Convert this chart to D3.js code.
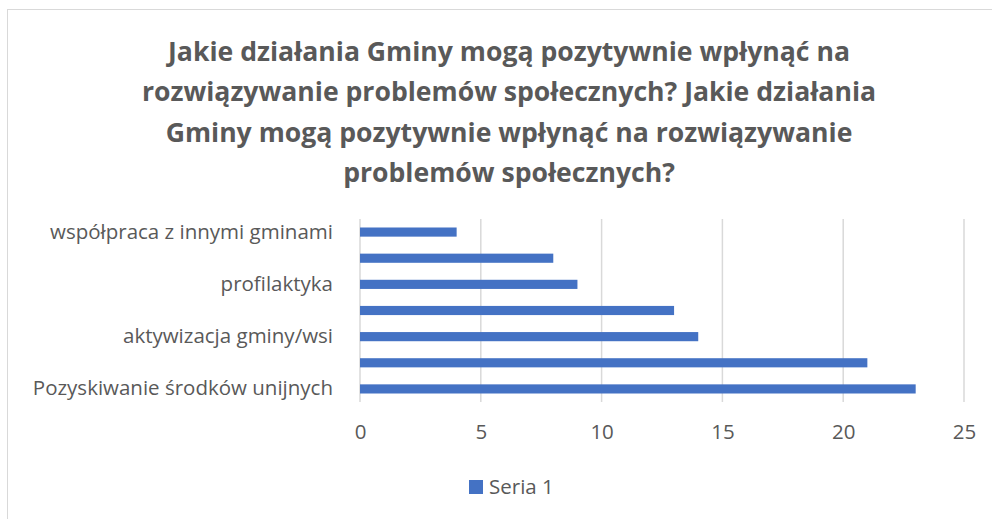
<!DOCTYPE html>
<html>
<head>
<meta charset="utf-8">
<script src="https://cdn.jsdelivr.net/npm/d3@7"></script>
<style>
  body { margin: 0; background: #fff; }
  svg { display: block; font-family: 'Open Sans', sans-serif; }
</style>
</head>
<body>
<div id="chart"></div>
<script>
// data, top to bottom as drawn; only every other category label is shown in the original
const categories = [
  'współpraca z innymi gminami',
  'kategoria 2',
  'profilaktyka',
  'kategoria 4',
  'aktywizacja gminy/wsi',
  'kategoria 6',
  'Pozyskiwanie środków unijnych'
];
const shownLabels = ['współpraca z innymi gminami', 'profilaktyka', 'aktywizacja gminy/wsi', 'Pozyskiwanie środków unijnych'];
const values = [4, 8, 9, 13, 14, 21, 23];
const xTicks = [0, 5, 10, 15, 20, 25];
const seriesName = 'Seria 1';
const titleLines = [
  'Jakie działania Gminy mogą pozytywnie wpłynąć na',
  'rozwiązywanie problemów społecznych? Jakie działania',
  'Gminy mogą pozytywnie wpłynąć na rozwiązywanie',
  'problemów społecznych?'
];

const width = 992;
const height = 519;
const margin = { top: 219, right: 28, bottom: 117, left: 360 };
const labelSize = '20.5px';

const svg = d3.select('#chart').append('svg')
  .attr('width', width)
  .attr('height', height);

// chart frame (only top/left edges fall inside the picture)
svg.append('rect')
  .attr('x', 7.5).attr('y', 9.5)
  .attr('width', width).attr('height', height)
  .attr('fill', 'none')
  .attr('stroke', '#d9d9d9');

svg.append('g')
  .selectAll('text')
  .data(titleLines)
  .enter().append('text')
    .attr('x', 509)
    .attr('y', (d, i) => 61 + i * 40.3)
    .attr('text-anchor', 'middle')
    .attr('fill', '#595959')
    .style('font-size', '26.6px')
    .style('font-weight', 'bold')
    .text(d => d);

const x = d3.scaleLinear()
  .domain([0, 25])
  .range([margin.left, width - margin.right]);

const y = d3.scaleBand()
  .domain(categories)
  .range([margin.top, height - margin.bottom])
  .paddingInner(0.65)
  .paddingOuter(0.325);

// gridlines
svg.append('g')
  .selectAll('line')
  .data(xTicks)
  .enter().append('line')
    .attr('x1', d => x(d)).attr('x2', d => x(d))
    .attr('y1', margin.top).attr('y2', height - margin.bottom)
    .attr('stroke', '#d9d9d9')
    .attr('stroke-width', 1.5);

svg.append('g')
  .selectAll('rect')
  .data(values)
  .enter().append('rect')
    .attr('x', x(0))
    .attr('y', (d, i) => y(categories[i]))
    .attr('width', d => x(d) - x(0))
    .attr('height', y.bandwidth())
    .attr('fill', '#4472c4');

// x axis labels
const xAxis = svg.append('g')
  .attr('transform', `translate(0,${height - margin.bottom + 22})`)
  .call(d3.axisBottom(x).tickValues(xTicks).tickSize(0).tickPadding(0));
xAxis.select('.domain').remove();
xAxis.selectAll('text')
  .attr('fill', '#595959')
  .style('font-family', "'Open Sans', sans-serif")
  .style('font-size', labelSize);

// category labels
const yAxis = svg.append('g')
  .attr('transform', `translate(${margin.left - 27},0)`)
  .call(d3.axisLeft(y).tickValues(shownLabels).tickSize(0).tickPadding(0));
yAxis.select('.domain').remove();
yAxis.selectAll('text')
  .attr('fill', '#595959')
  .style('font-family', "'Open Sans', sans-serif")
  .style('font-size', labelSize);

// legend
const legend = svg.append('g').attr('transform', 'translate(469,480)');
legend.append('rect')
  .attr('width', 14).attr('height', 14)
  .attr('fill', '#4472c4');
legend.append('text')
  .attr('x', 20).attr('y', 7)
  .attr('dy', '0.35em')
  .attr('fill', '#595959')
  .style('font-size', labelSize)
  .text(seriesName);
</script>
</body>
</html>
